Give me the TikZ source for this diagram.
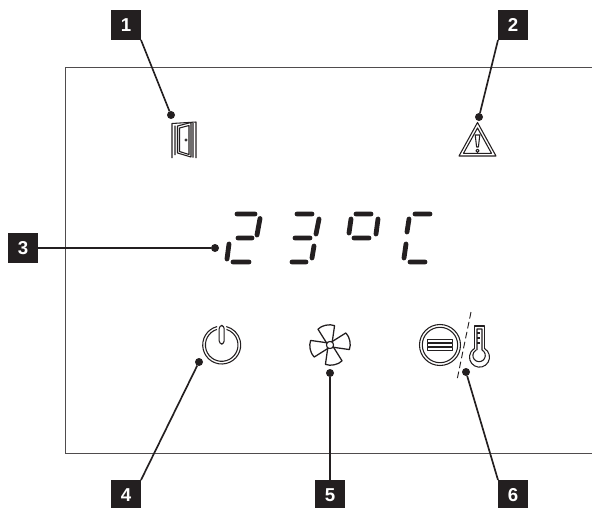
\documentclass[tikz,border=0pt]{standalone}
\usepackage{fontspec}
\setmainfont{Liberation Sans}
\definecolor{ink}{HTML}{231F20}
\tikzset{
  tag/.style={fill=ink,text=white,font=\bfseries\fontsize{14}{16}\selectfont,minimum size=22.5pt,inner sep=0pt,outer sep=0pt},
  pin/.style={circle,fill=ink,minimum size=6pt,inner sep=0pt,outer sep=0pt},
  lead/.style={ink,line width=1.25pt},
  frameline/.style={draw=ink!80,line width=0.75pt},
  seg/.style={ink,line width=3.6pt,line cap=round},
  icon/.style={ink,line width=0.8pt,line join=round},
}
\begin{document}
\begin{tikzpicture}[x=0.75pt,y=-0.75pt]
\useasboundingbox (0,0) rectangle (592,507);
\clip (0,0) rectangle (592,507);
\draw[frameline] (592,67) -- (65,67) -- (65,453) -- (592,453);
% tags
\node[tag] (t1) at (126,25) {1};
\node[tag] (t2) at (513,25) {2};
\node[tag] (t3) at (23,248) {3};
\node[tag] (t4) at (126,495) {4};
\node[tag] (t5) at (330,495) {5};
\node[tag] (t6) at (513,495) {6};
% pins
\node[pin] (d1) at (171,115) {};
\node[pin] (d2) at (479,117) {};
\node[pin] (d3) at (215,248) {};
\node[pin] (d4) at (199,362) {};
\node[pin] (d5) at (330,373) {};
\node[pin] (d6) at (466,372) {};
\draw[lead] (t1.south east) -- (d1);
\draw[lead] (t2.south west) -- (d2);
\draw[lead] (t3.east) -- (d3);
\draw[lead] (t4.north east) -- (d4);
\draw[lead] (t5.north) -- (d5);
\draw[lead] (t6.north west) -- (d6);
% digits
\draw[seg] (237,214)--(255,214) (260,218.5)--(257,235) (238,238)--(252,238)
  (229,244)--(227,259) (233,262)--(249,262);
\draw[seg] (297,214)--(312,214) (319,219)--(316,234) (295,238)--(310,238)
  (314,246)--(312,258) (292,262)--(306,262);
\draw[seg] (356,214)--(371,214) (351,219)--(349,233) (378,219)--(376,234) (354,238)--(369,238);
\draw[seg] (415,214)--(430,214) (409,219)--(407,232) (406,244)--(404,258) (410,262)--(425,262);
% door
\draw[icon] (172,158)--(172,123.5)--(196,122)--(196,158) (175,155)--(175,125.5) (193,123)--(193,157.5);
\draw[icon,fill=white] (177.5,126)--(191,122.5)--(191,157)--(177.5,153)--cycle;
\draw[icon,fill=white] (179.5,128)--(189,125.5)--(189,154.5)--(179.5,151.5)--cycle;
\draw[ink,line width=0.5pt] (186,140) circle (1.2);
% warning
\draw[icon] (477.5,122.5)--(496,156)--(459,156)--cycle;
\draw[icon] (477.5,128)--(491.5,153.3)--(463.5,153.3)--cycle;
\draw[icon] (475.2,135)--(479.8,135)--(478.4,147)--(476.6,147)--cycle;
\draw[icon] (477.5,150.8) circle (1.6);
% power
\draw[icon] ({221.7-19*sin(14)},{345-19*cos(14)}) arc[start angle=104,delta angle=332,x radius=19,y radius=-19];
\draw[icon] ({221.7-16.3*sin(17)},{345-16.3*cos(17)}) arc[start angle=107,delta angle=326,x radius=16.3,y radius=-16.3];
\draw[icon,rounded corners=2.3pt] (219.2,325.5) rectangle (224.2,344);
% fan
\foreach \a in {-78,12,102,192}{
  \draw[icon,line width=0.95pt,rotate around={\a:(330,345)}] (333,342)--(348,336.5) .. controls (351,341) and (351,349) .. (348,353.5)--(333,348)--cycle;
}
\draw[icon,fill=white] (330,345) circle (3.6);
% menu
\draw[icon] (440,345) circle (20.5);
\draw[icon] (440,345) circle (17.7);
\draw[icon,fill=white] (427.5,339.5) rectangle (452.5,342.5);
\draw[icon,fill=white] (427.5,343.5) rectangle (452.5,346.5);
\draw[icon,fill=white] (427.5,347.5) rectangle (452.5,350.5);
% separator
\draw[ink,line width=0.7pt,dash pattern=on 5pt off 2.6pt] (471,312) -- (457,380);
% thermometer
\draw[icon] (474.5,348.5)--(474.5,326)--(484.5,326)--(484.5,348.5);
\draw[icon] (484.5,348.5) arc[start angle=60,delta angle=-300,x radius=10,y radius=-10];
\draw[icon] (477,350) -- (477,329) -- (482,329) -- (482,350) arc[start angle=62,delta angle=-304,x radius=6.2,y radius=-6.2];
\draw[icon] (477,333)--(480,333) (477,338)--(480,338) (477,343)--(480,343);
\end{tikzpicture}
\end{document}
